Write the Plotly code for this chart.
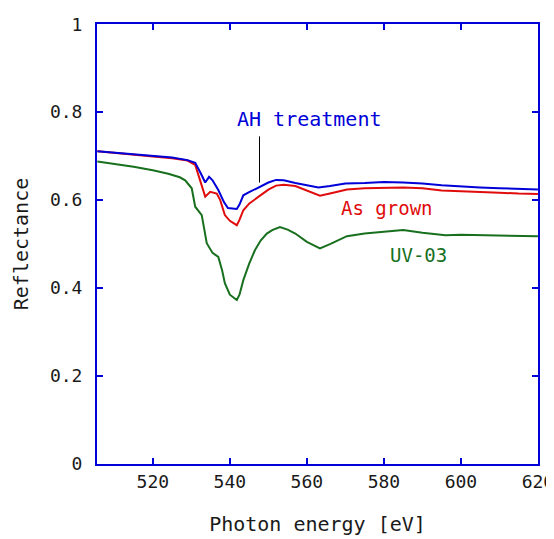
import plotly.graph_objects as go

# Photon energy [eV] and reflectance for each sample
ah_energy = [505.6, 510, 515, 520, 525, 529, 531, 532.5, 533.6, 534.6, 535.5, 537, 538.5, 539.5,
             541.8, 542.5, 543.5, 545, 547.4, 550, 552, 554, 557, 560, 563, 566, 570, 575, 580,
             585, 590, 595, 600, 605, 610, 615, 620]
ah_refl = [0.711, 0.708, 0.704, 0.700, 0.697, 0.691, 0.685, 0.660, 0.640, 0.653, 0.645, 0.623,
           0.595, 0.582, 0.580, 0.590, 0.611, 0.618, 0.629, 0.640, 0.646, 0.645, 0.639, 0.634,
           0.629, 0.632, 0.638, 0.639, 0.641, 0.640, 0.638, 0.634, 0.631, 0.629, 0.627, 0.626, 0.624]

ag_energy = [505.6, 510, 515, 520, 525, 529, 531, 532.5, 533.6, 534.9, 536.6, 537.5, 538.7, 540,
             541.8, 542.5, 543.5, 545, 547.4, 550, 552, 554, 557, 560, 563.4, 566, 570.4, 575,
             580, 585, 590, 595, 600, 605, 610, 615, 620]
ag_refl = [0.711, 0.707, 0.702, 0.699, 0.695, 0.690, 0.680, 0.640, 0.608, 0.619, 0.615, 0.600,
           0.566, 0.553, 0.543, 0.555, 0.577, 0.592, 0.608, 0.624, 0.633, 0.635, 0.632, 0.622,
           0.610, 0.615, 0.624, 0.627, 0.628, 0.629, 0.627, 0.622, 0.620, 0.619, 0.617, 0.615, 0.614]

uv_energy = [505.6, 510, 515, 520, 524, 527, 528.4, 530.1, 531, 532.7, 534, 535.5, 537, 538,
             538.7, 540, 541.8, 542.5, 543.5, 545, 546.5, 548, 549.6, 551, 553, 555, 557, 560,
             563.4, 566, 570.4, 575, 580, 585, 590, 596, 600, 610, 620]
uv_refl = [0.688, 0.683, 0.676, 0.668, 0.660, 0.652, 0.645, 0.627, 0.585, 0.566, 0.502, 0.480,
           0.471, 0.440, 0.411, 0.385, 0.373, 0.385, 0.418, 0.455, 0.486, 0.508, 0.524, 0.532,
           0.539, 0.533, 0.524, 0.505, 0.490, 0.500, 0.518, 0.524, 0.528, 0.532, 0.526, 0.520,
           0.521, 0.519, 0.518]

y_tickvals = [0, 0.2, 0.4, 0.6, 0.8, 1]
y_ticktext = ["0", "0.2", "0.4", "0.6", "0.8", "1"]
x_tickvals = [520, 540, 560, 580, 600, 620]

BLUE = "#0000d8"
RED = "#e00c0c"
GREEN = "#18701e"
TXT = "#1a1a1a"
FONT = "DejaVu Sans Mono"

fig = go.Figure()
fig.add_trace(go.Scatter(x=uv_energy, y=uv_refl, mode="lines", line=dict(color=GREEN, width=2), name="UV-03"))
fig.add_trace(go.Scatter(x=ag_energy, y=ag_refl, mode="lines", line=dict(color=RED, width=2), name="As grown"))
fig.add_trace(go.Scatter(x=ah_energy, y=ah_refl, mode="lines", line=dict(color=BLUE, width=2), name="AH treatment"))

fig.add_annotation(x=560.8, y=0.784, text="AH treatment", showarrow=False,
                   font=dict(family=FONT, size=20, color=BLUE))
fig.add_annotation(x=580.8, y=0.582, text="As grown", showarrow=False,
                   font=dict(family=FONT, size=19, color=RED))
fig.add_annotation(x=588.9, y=0.475, text="UV-03", showarrow=False,
                   font=dict(family=FONT, size=19, color=GREEN))
fig.add_shape(type="line", x0=547.7, x1=547.7, y0=0.745, y1=0.640,
              line=dict(color="black", width=1))

axis_common = dict(showline=True, linecolor=BLUE, linewidth=2, mirror="ticks",
                   ticks="inside", tickcolor=BLUE, ticklen=6, tickwidth=2,
                   showgrid=False, zeroline=False, automargin=False,
                   ticklabeloverflow="allow",
                   tickfont=dict(family=FONT, size=18, color=TXT))

fig.update_xaxes(range=[505.5, 620.02], tickvals=x_tickvals,
                 title=dict(text="Photon energy [eV]", font=dict(family=FONT, size=20, color=TXT), standoff=26),
                 **axis_common)
fig.update_yaxes(range=[0, 1.0005], tickvals=y_tickvals, ticktext=y_ticktext,
                 ticklabelstandoff=9,
                 title=dict(text="Reflectance", font=dict(family=FONT, size=20, color=TXT), standoff=16),
                 **axis_common)

# page body adds an 8px offset, so the figure is sized to fit the window
fig.update_layout(width=546, height=531, showlegend=False,
                  plot_bgcolor="white", paper_bgcolor="white",
                  margin=dict(l=89, r=16, t=16, b=75))

fig.write_html("out.html")
